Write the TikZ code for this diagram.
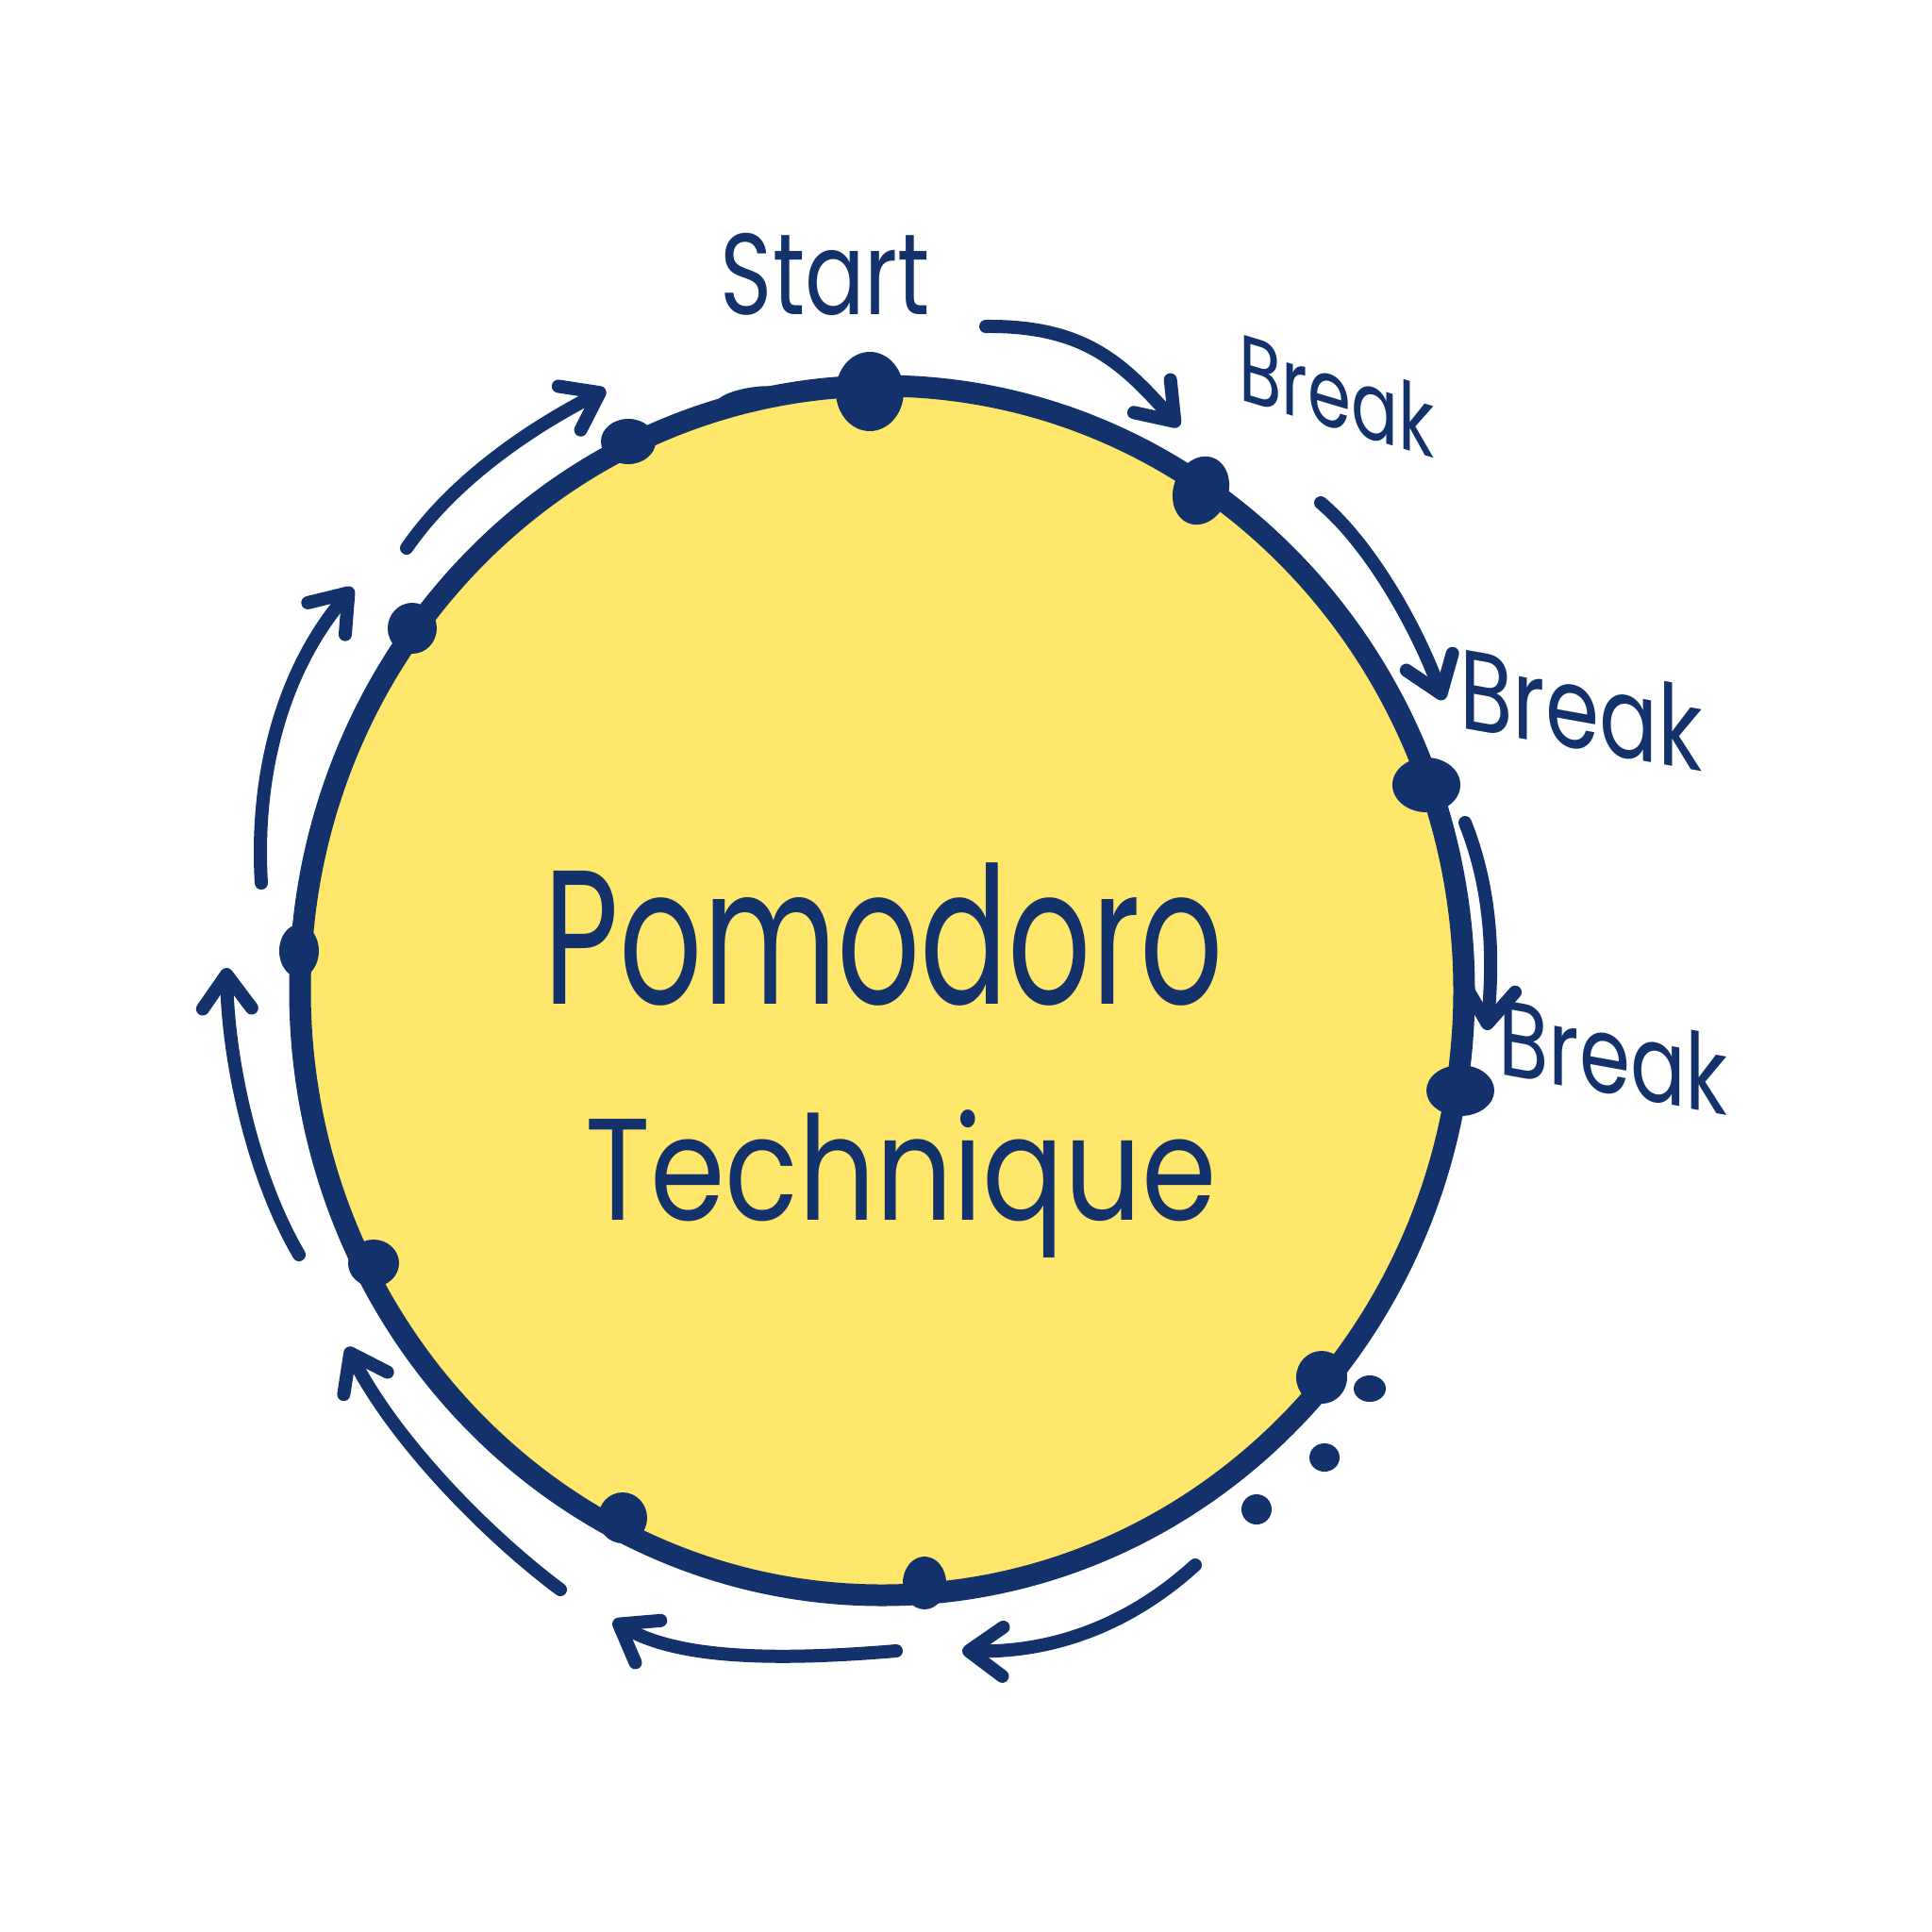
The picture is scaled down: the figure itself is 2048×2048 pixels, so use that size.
\documentclass[tikz,border=0pt]{standalone}
\usepackage{fontspec}
\setmainfont{Poppins}
\usetikzlibrary{arrows.meta,shapes.geometric}
\definecolor{ink}{HTML}{13326B}
\definecolor{sun}{HTML}{FEE76B}
\begin{document}
\begin{tikzpicture}[x=1pt,y=-1pt,
  flow/.style={draw=ink, line width=14pt, line cap=round,
    -{Straight Barb[length=36pt,width=52pt,round]}},
  stop/.style={shape=ellipse, fill=ink, inner sep=0pt},
  label/.style={text=ink, inner sep=0pt}
]
\useasboundingbox (0,0) rectangle (2048,2048);
\fill[white] (0,0) rectangle (2048,2048);

% the cycle
\draw[ink, line width=23pt, fill=sun] (935,1050) ellipse [x radius=617, y radius=641];
\node[stop, minimum width=70pt, minimum height=18pt, rotate=10] (smudge) at (795,420) {};

% stops around the cycle
\node[stop, minimum width=72pt, minimum height=84pt] (d1) at (922,415) {};
\node[stop, minimum width=58pt, minimum height=48pt] (d2) at (666,468) {};
\node[stop, minimum width=52pt, minimum height=54pt] (d3) at (437,666) {};
\node[stop, minimum width=42pt, minimum height=56pt] (d4) at (317,1008) {};
\node[stop, minimum width=54pt, minimum height=50pt] (d5) at (396,1339) {};
\node[stop, minimum width=52pt, minimum height=54pt] (d6) at (660,1609) {};
\node[stop, minimum width=46pt, minimum height=56pt] (d7) at (980,1678) {};
\node[stop, minimum width=54pt, minimum height=56pt] (d8) at (1401,1460) {};
\node[stop, minimum width=72pt, minimum height=54pt] (d9) at (1548,1156) {};
\node[stop, minimum width=72pt, minimum height=58pt] (d10) at (1512,832) {};
\node[stop, minimum width=58pt, minimum height=74pt, rotate=-20] (d11) at (1273,520) {};

% trailing dots
\node[stop, minimum width=34pt, minimum height=28pt] (e1) at (1452,1472) {};
\node[stop, minimum width=32pt, minimum height=30pt] (e2) at (1404,1545) {};
\node[stop, minimum width=32pt, minimum height=32pt] (e3) at (1332,1600) {};

% arrow end points
\coordinate (a1s) at (1045,346);  \coordinate (a1e) at (1250,452);
\coordinate (a2s) at (1400,533);  \coordinate (a2e) at (1530,742);
\coordinate (a3s) at (1553,872);  \coordinate (a3e) at (1576,1092);
\coordinate (a4s) at (1267,1659); \coordinate (a4e) at (1020,1750);
\coordinate (a5s) at (950,1750);  \coordinate (a5e) at (650,1718);
\coordinate (a6s) at (594,1685);  \coordinate (a6e) at (368,1428);
\coordinate (a7s) at (317,1330);  \coordinate (a7e) at (240,1026);
\coordinate (a8s) at (277,936);   \coordinate (a8e) at (374,623);
\coordinate (a9s) at (431,581);   \coordinate (a9e) at (642,413);

\draw[flow] (a1s) .. controls (1150,345) and (1190,385) .. (a1e);
\draw[flow] (a2s) .. controls (1450,575) and (1500,660) .. (a2e);
\draw[flow] (a3s) .. controls (1580,940) and (1584,1010) .. (a3e);
\draw[flow] (a4s) .. controls (1200,1720) and (1120,1752) .. (a4e);
\draw[flow] (a5s) .. controls (830,1760) and (720,1760) .. (a5e);
\draw[flow] (a6s) .. controls (520,1630) and (420,1530) .. (a6e);
\draw[flow] (a7s) .. controls (270,1250) and (242,1130) .. (a7e);
\draw[flow] (a8s) .. controls (270,820) and (300,710) .. (a8e);
\draw[flow] (a9s) .. controls (480,510) and (560,455) .. (a9e);

% labels
\node[label, anchor=base] (start) at (875,333)
  {\fontsize{94}{94}\selectfont\scalebox{1}[1.3]{Start}};
\begin{scope}[shift={(1417,418)}, yslant=-0.30]
  \node[label, transform shape] (brk1) at (0,0)
    {\fontsize{74}{74}\selectfont\scalebox{1}[1.35]{Break}};
\end{scope}
\begin{scope}[shift={(1676,751)}, yslant=-0.18]
  \node[label, transform shape] (brk2) at (0,0)
    {\fontsize{92}{92}\selectfont\scalebox{1}[1.3]{Break}};
\end{scope}
\begin{scope}[shift={(1710,1119)}, yslant=-0.18]
  \node[label, transform shape] (brk3) at (0,0)
    {\fontsize{87}{87}\selectfont\scalebox{1}[1.3]{Break}};
\end{scope}

\node[label, anchor=base] (title1) at (937,1064)
  {\fontsize{150}{150}\selectfont\scalebox{0.92}[1.35]{Pomodoro}};
\node[label, anchor=base] (title2) at (955,1293)
  {\fontsize{128}{128}\selectfont\scalebox{1}[1.2]{Technique}};
\end{tikzpicture}
\end{document}
